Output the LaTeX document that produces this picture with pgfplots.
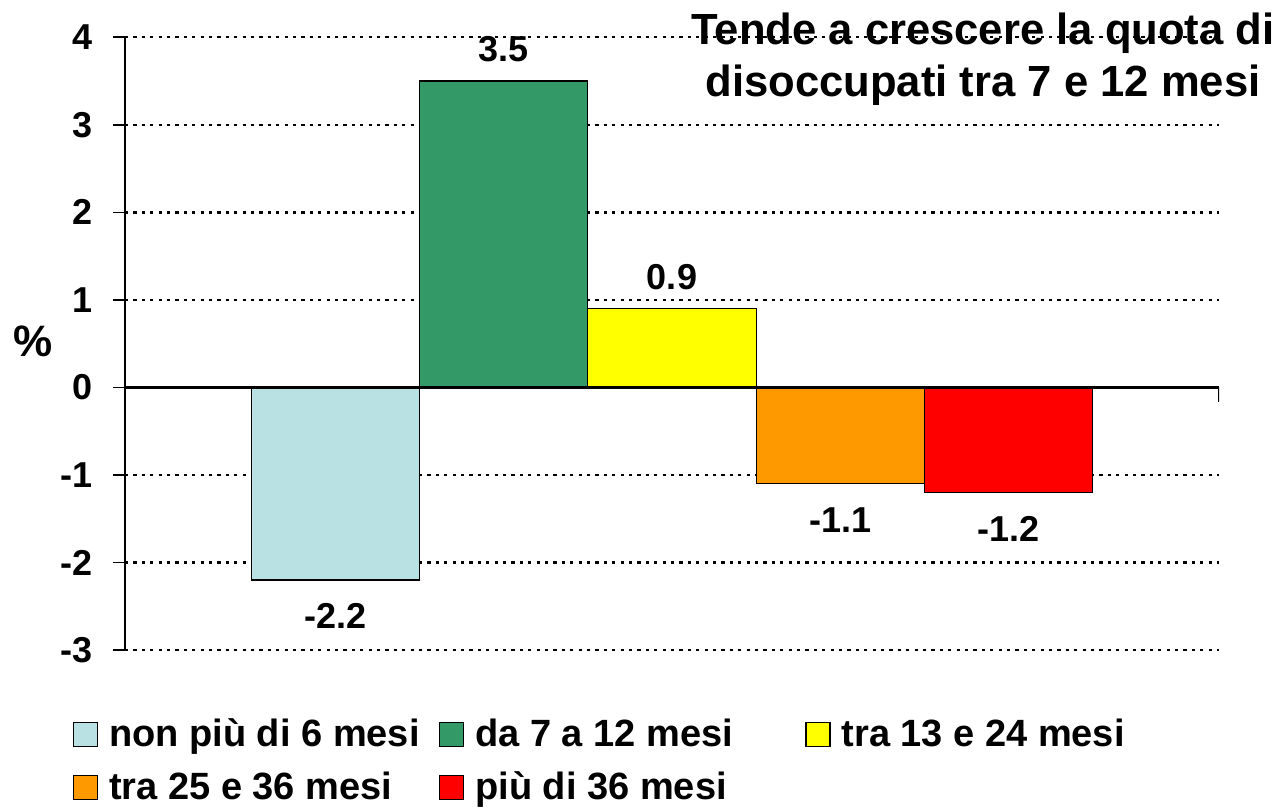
\documentclass[border=0pt]{standalone}
\usepackage{fontspec}
\setmainfont{Liberation Sans}
\usepackage{pgfplots}
\pgfplotsset{compat=1.18}
\definecolor{cLB}{HTML}{B9E0E2}
\definecolor{cGR}{HTML}{339966}
\definecolor{cYE}{HTML}{FFFF00}
\definecolor{cOR}{HTML}{FF9900}
\definecolor{cRD}{HTML}{FF0000}
\newcommand{\legbox}[1]{\makebox[159.5pt][l]{\rule[-8pt]{0pt}{26.5pt}#1}}
\begin{document}
\begin{tikzpicture}
\useasboundingbox (-62.5pt,-79pt) rectangle (577.5pt,325pt);
\begin{axis}[
  at={(0pt,0pt)}, anchor=south west,
  scale only axis,
  width=547pt, height=306.35pt,
  xmin=-1.25, xmax=5.25, ymin=-3, ymax=4,
  axis x line=none,
  axis y line*=left,
  ytick={-3,-2,-1,0,1,2,3,4},
  tick align=outside,
  major tick length=6pt,
  ymajorgrids,
  grid style={black, line width=1.2pt, dash pattern=on 1.6pt off 2.6pt},
  axis line style={black, line width=0.8pt},
  tick style={black, line width=0.8pt},
  yticklabel style={font=\bfseries\fontsize{18}{21}\selectfont, inner sep=0pt, xshift=-10pt},
  /pgf/number format/assume math mode=true,
  ybar, bar width=1, bar shift=0pt,
  point meta=explicit symbolic,
  legend columns=3,
  legend cell align=left,
  legend image code/.code={\draw[#1,draw=black,line width=0.6pt] (0pt,-5pt) rectangle (12pt,7pt);},
  legend style={at={(-0.0475,-0.0979)}, anchor=north west, draw=none, fill=none,
    inner sep=0pt, outer sep=0pt, column sep=5.5pt, row sep=0pt,
    font=\bfseries\fontsize{19}{22}\selectfont,
    nodes={inner sep=0pt, text depth=8pt}},
]
\addplot[fill=cLB, draw=black, line width=0.6pt, nodes near coords,
  every node near coord/.append style={anchor=north, yshift=-11.5pt, inner sep=0pt, text depth=0pt, font=\bfseries\fontsize{18}{21}\selectfont, text=black}]
  coordinates {(0,-2.2) [-2.2]};
\addlegendentry{\legbox{non più di 6 mesi}}
\addplot[fill=cGR, draw=black, line width=0.6pt, nodes near coords,
  every node near coord/.append style={anchor=south, yshift=9.5pt, inner sep=0pt, text depth=0pt, font=\bfseries\fontsize{18}{21}\selectfont, text=black}]
  coordinates {(1,3.5) [3.5]};
\addlegendentry{\legbox{da 7 a 12 mesi}}
\addplot[fill=cYE, draw=black, line width=0.6pt, nodes near coords,
  every node near coord/.append style={anchor=south, yshift=9.5pt, inner sep=0pt, text depth=0pt, font=\bfseries\fontsize{18}{21}\selectfont, text=black}]
  coordinates {(2,0.9) [0.9]};
\addlegendentry{\legbox{tra 13 e 24 mesi}}
\addplot[fill=cOR, draw=black, line width=0.6pt, nodes near coords,
  every node near coord/.append style={anchor=north, yshift=-11.5pt, inner sep=0pt, text depth=0pt, font=\bfseries\fontsize{18}{21}\selectfont, text=black}]
  coordinates {(3,-1.1) [-1.1]};
\addlegendentry{\legbox{tra 25 e 36 mesi}}
\addplot[fill=cRD, draw=black, line width=0.6pt, nodes near coords,
  every node near coord/.append style={anchor=north, yshift=-11.5pt, inner sep=0pt, text depth=0pt, font=\bfseries\fontsize{18}{21}\selectfont, text=black}]
  coordinates {(4,-1.2) [-1.2]};
\addlegendentry{\legbox{più di 36 mesi}}
\draw[black, line width=1.2pt] (axis cs:-1.25,0) -- (axis cs:5.25,0);
\draw[black, line width=0.8pt] (axis cs:5.25,0) -- ++(0pt,-7.5pt);
\end{axis}
\node[anchor=base, inner sep=0pt, font=\bfseries\fontsize{21.8}{25}\selectfont] at (429pt,302.5pt) {Tende a crescere la quota di};
\node[anchor=base, inner sep=0pt, font=\bfseries\fontsize{21.8}{25}\selectfont] at (429pt,276.5pt) {disoccupati tra 7 e 12 mesi};
\node[inner sep=0pt, font=\bfseries\fontsize{22}{25}\selectfont] at (-46pt,154.5pt) {\%};
\end{tikzpicture}
\end{document}
